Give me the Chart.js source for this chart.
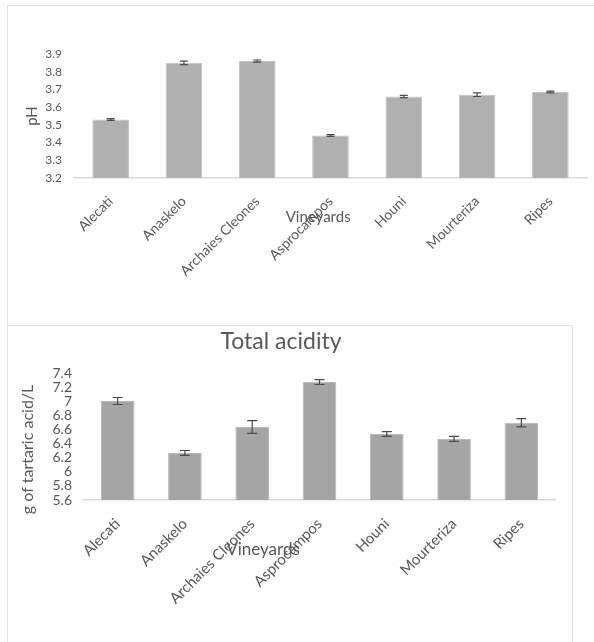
<!DOCTYPE html>
<html>
<head>
<meta charset="utf-8">
<script src="https://cdn.jsdelivr.net/npm/chart.js@4.4.1/dist/chart.umd.min.js"></script>
<style>
  body { margin: 0; background: #fff; width: 594px; height: 642px; overflow: hidden; position: relative; }
  .box { position: absolute; border: 1px solid #e3e3e3; box-sizing: border-box; }
  canvas { position: absolute; }
</style>
</head>
<body>
<div class="box" style="left:7px;top:5px;width:600px;height:330px;border-right:none;border-bottom:none"></div>
<div class="box" style="left:7px;top:325px;width:566px;height:330px;background:#fff"></div>
<canvas id="phChart" width="594" height="320" style="left:0;top:5px"></canvas>
<canvas id="acidChart" width="565" height="316" style="left:7px;top:326px"></canvas>
<script>
const vineyards = ["Alecati", "Anaskelo", "Archaies Cleones", "Asprocampos", "Houni", "Mourteriza", "Ripes"];

const phValues = [3.53, 3.85, 3.86, 3.44, 3.66, 3.67, 3.685];
const phErrors = [0.005, 0.01, 0.006, 0.005, 0.006, 0.01, 0.005];
const phTicks = { min: 3.2, max: 3.9, step: 0.1 };

const acidityValues = [7.01, 6.27, 6.64, 7.28, 6.54, 6.47, 6.70];
const acidityErrors = [0.05, 0.035, 0.09, 0.035, 0.035, 0.035, 0.06];
const acidityTicks = { min: 5.6, max: 7.4, step: 0.2 };

const FONT = "Lato, 'Liberation Sans', sans-serif";
const TEXT = "#595959";

// error bars drawn from the error arrays through the y scale
const errorBars = {
  id: "errorBars",
  afterDatasetsDraw(chart, args, opts) {
    const ctx = chart.ctx;
    const y = chart.scales.y;
    const ds = chart.data.datasets[0];
    chart.getDatasetMeta(0).data.forEach((bar, i) => {
      const v = ds.data[i], e = opts.errors[i];
      const top = y.getPixelForValue(v + e);
      const bot = y.getPixelForValue(v - e);
      ctx.save();
      ctx.strokeStyle = "#4a4a4a";
      ctx.lineWidth = 1.2;
      ctx.beginPath();
      ctx.moveTo(bar.x, top); ctx.lineTo(bar.x, bot);
      ctx.moveTo(bar.x - opts.cap, top); ctx.lineTo(bar.x + opts.cap, top);
      ctx.moveTo(bar.x - opts.cap, bot); ctx.lineTo(bar.x + opts.cap, bot);
      ctx.stroke();
      ctx.restore();
    });
  }
};

// axis titles placed like the original (x title overlaps the rotated labels)
const axisTitles = {
  id: "axisTitles",
  afterDraw(chart, args, opts) {
    const a = chart.chartArea;
    const ctx = chart.ctx;
    ctx.save();
    ctx.fillStyle = TEXT;
    ctx.textAlign = "center";
    ctx.textBaseline = "middle";
    ctx.font = opts.xSize + "px " + FONT;
    ctx.fillText(opts.xText, a.left + (a.right - a.left) * opts.xPos, a.bottom + opts.xDy);
    ctx.translate(opts.yX, a.top + (a.bottom - a.top) * opts.yPos);
    ctx.rotate(-Math.PI / 2);
    ctx.font = opts.ySize + "px " + FONT;
    ctx.fillText(opts.yText, 0, 0);
    ctx.restore();
  }
};

function makeChart(el, cfg) {
  return new Chart(el.getContext("2d"), {
    type: "bar",
    data: {
      labels: vineyards,
      datasets: [{
        data: cfg.values,
        backgroundColor: cfg.color,
        borderColor: cfg.edge,
        borderWidth: 1,
        categoryPercentage: 1,
        barPercentage: 0.5,
      }],
    },
    plugins: [errorBars, axisTitles],
    options: {
      responsive: false,
      animation: false,
      layout: { padding: cfg.padding },
      scales: {
        x: {
          type: "category",
          grid: { display: false, drawTicks: false },
          border: { display: true, color: "#d9d9d9", width: 1.5 },
          ticks: {
            minRotation: 45, maxRotation: 45, padding: cfg.xPad, autoSkip: false,
            color: TEXT, font: { family: FONT, size: cfg.xFont },
          },
          afterFit: s => { s.height = cfg.xHeight; },
        },
        y: {
          type: "linear",
          min: cfg.ticks.min,
          max: cfg.ticks.max,
          grid: { display: false, drawTicks: false },
          border: { display: false },
          ticks: {
            stepSize: cfg.ticks.step, padding: cfg.yPad, autoSkip: false,
            color: TEXT, font: { family: FONT, size: cfg.yFont },
            callback: v => String(+v.toFixed(1)),
          },
          afterFit: s => { s.width = cfg.yWidth; },
        },
      },
      plugins: {
        legend: { display: false },
        tooltip: { enabled: false },
        title: cfg.title,
        errorBars: { errors: cfg.errors, cap: cfg.cap },
        axisTitles: {
          xText: "Vineyards", xPos: cfg.xTitlePos, xDy: cfg.xTitleDy, xSize: cfg.xTitleSize,
          yText: cfg.yTitle, yX: cfg.yTitleX, yPos: cfg.yTitlePos, ySize: cfg.yTitleSize,
        },
      },
    },
  });
}

makeChart(document.getElementById("phChart"), {
  values: phValues, errors: phErrors, ticks: phTicks,
  color: "#b0b0b0", edge: "#c4c4c4", cap: 4,
  padding: { left: 0, right: 7, top: 49, bottom: 0 },
  xHeight: 147, yWidth: 74, xPad: 15, yPad: 12,
  xFont: 14, yFont: 12,
  yTitle: "pH", yTitleSize: 15, yTitleX: 32, yTitlePos: 0.5,
  title: { display: false },
  xTitlePos: 0.476, xTitleDy: 39, xTitleSize: 15,
});

makeChart(document.getElementById("acidChart"), {
  values: acidityValues, errors: acidityErrors, ticks: acidityTicks,
  color: "#a5a5a5", edge: "#b8b8b8", cap: 5,
  padding: { left: 0, right: 17, top: 0, bottom: 0 },
  xHeight: 142, yWidth: 77, xPad: 15, yPad: 12,
  xFont: 15, yFont: 14,
  yTitle: "g of tartaric acid/L", yTitleSize: 16, yTitleX: 21, yTitlePos: 0.6,
  title: {
    display: true, text: "Total acidity", color: TEXT,
    font: { family: FONT, size: 23, weight: "normal" },
    padding: { top: 2, bottom: 18 },
  },
  xTitlePos: 0.38, xTitleDy: 50, xTitleSize: 17,
});
</script>
</body>
</html>
